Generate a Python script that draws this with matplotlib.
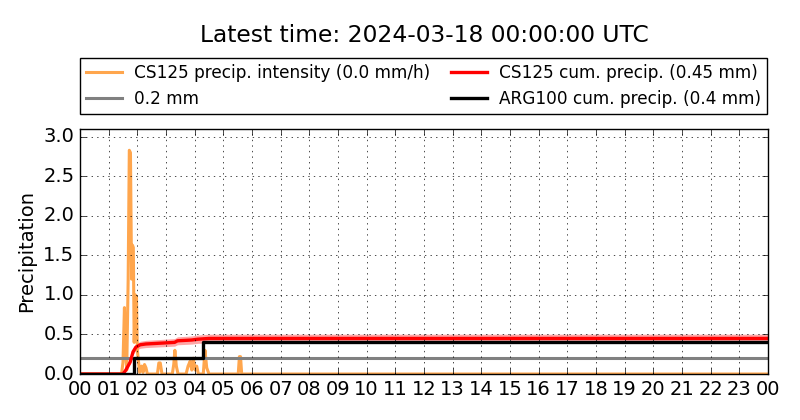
import matplotlib
matplotlib.use("Agg")
import matplotlib.pyplot as plt

# precipitation intensity CS125 (mm/h), hours since 00 UTC
int_hours = [0, 1.45, 1.5, 1.55, 1.59, 1.63, 1.68, 1.72, 1.76, 1.8, 1.83, 1.86,
             1.89, 1.93, 1.97, 2.0, 2.04, 2.08, 2.15, 2.2, 2.25, 2.3, 2.35, 2.45,
             2.7, 2.75, 2.8, 2.86, 3.22, 3.27, 3.31, 3.36, 3.42, 3.7, 3.77, 3.84,
             3.9, 3.95, 4.02, 4.07, 4.13, 4.3, 4.36, 4.42, 4.5, 5.52, 5.56, 5.6,
             5.64, 24]
int_vals = [0, 0, 0.15, 0.84, 0.3, 0.05, 1.2, 2.83, 2.8, 1.2, 1.63, 1.6,
            0.4, 1.0, 0.98, 0.3, 0.16, 0.02, 0.1, 0.02, 0.12, 0.08, 0.0, 0.0,
            0.0, 0.14, 0.14, 0.0, 0.0, 0.12, 0.3, 0.1, 0.0, 0.0, 0.1, 0.16,
            0.05, 0.2, 0.05, 0.1, 0.0, 0.0, 0.3, 0.08, 0.0, 0.0, 0.22, 0.22,
            0.0, 0]

# CS125 cumulative precipitation (mm)
cum_hours = [0, 1.5, 1.6, 1.75, 1.85, 1.95, 2.1, 2.3, 2.8, 3.3, 3.4, 3.9, 4.1, 4.5, 24]
cum_vals = [0, 0, 0.05, 0.15, 0.28, 0.34, 0.37, 0.38, 0.39, 0.40, 0.42, 0.43, 0.44, 0.45, 0.45]
cum_band = 0.12  # relative uncertainty

# ARG100 cumulative (mm)
arg_hours = [0, 1.87, 4.3, 24]
arg_vals = [0, 0.2, 0.4, 0.4]

threshold = 0.2
hour_labels = ["%02d" % (h % 24) for h in range(25)]

plt.style.use("classic")
fig = plt.figure(figsize=(8, 4.2), dpi=100, facecolor="white")
ax = fig.add_axes([0.1, 0.1095, 0.86, 0.5835])

l1, = ax.plot(int_hours, int_vals, color="#ffa64d", lw=2.2,
              label="CS125 precip. intensity (0.0 mm/h)")
l2, = ax.plot([0, 24], [threshold, threshold], color="grey", lw=2.2, label="0.2 mm")
lo = [v * (1 - cum_band) for v in cum_vals]
hi = [v * (1 + cum_band) for v in cum_vals]
ax.fill_between(cum_hours, lo, hi, color="red", alpha=0.35, lw=0)
l3, = ax.plot(cum_hours, cum_vals, color="red", lw=2.4,
              label="CS125 cum. precip. (0.45 mm)")
l4, = ax.plot(arg_hours, arg_vals, color="black", lw=2.4, drawstyle="steps-post",
              label="ARG100 cum. precip. (0.4 mm)")

ax.set_xlim(0, 24)
ax.set_ylim(0, 3.1)
ax.set_xticks(range(25))
ax.set_xticklabels(hour_labels)
ax.set_yticks([0, 0.5, 1.0, 1.5, 2.0, 2.5, 3.0])
ax.tick_params(labelsize=14)
ax.grid(True)
ax.set_ylabel("Precipitation", fontsize=14)

fig.legend(handles=[l1, l2, l3, l4], ncol=2, fontsize=12.2, handlelength=2.1,
           handletextpad=0.75, borderpad=0.35, labelspacing=0.45,
           bbox_to_anchor=(0.1, 0.729, 0.859, 0.136), loc="lower left",
           mode="expand", borderaxespad=0, numpoints=1)
fig.text(0.53, 0.9007, "Latest time: 2024-03-18 00:00:00 UTC", fontsize=16.8,
         ha="center", va="baseline")

fig.savefig("out.png", dpi=100, facecolor="white")
